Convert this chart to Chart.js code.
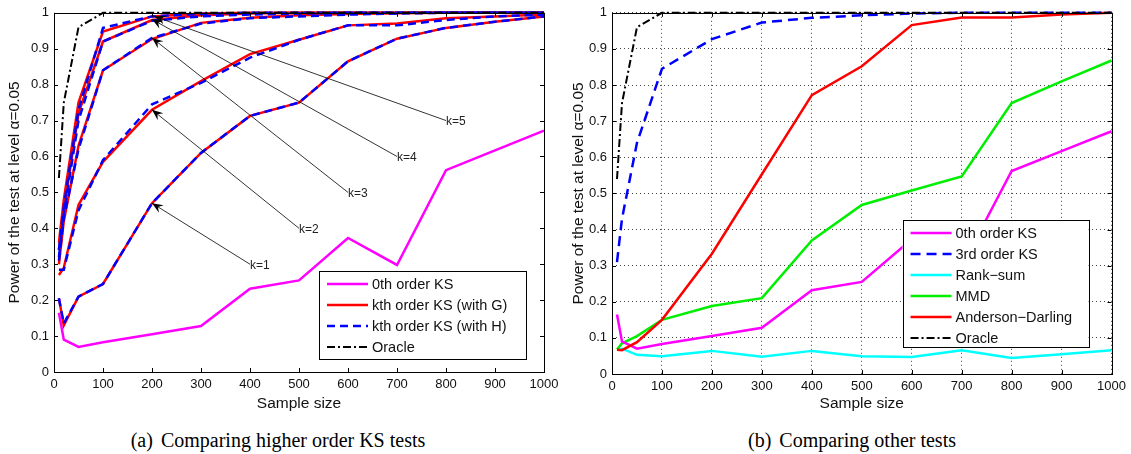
<!DOCTYPE html>
<html><head><meta charset="utf-8">
<script src="https://cdn.jsdelivr.net/npm/chart.js@4.4.0/dist/chart.umd.min.js"></script>
<style>
html,body{margin:0;padding:0;background:#fff;width:1131px;height:454px;overflow:hidden;}
#wa{position:absolute;left:0;top:0;width:565px;height:415px;}
#wb{position:absolute;left:565px;top:0;width:566px;height:415px;}
.cap{position:absolute;top:429px;font-family:'Liberation Serif','Times New Roman',serif;font-size:20px;line-height:23px;color:#000;white-space:nowrap;transform:translateX(-50%);}
</style></head><body>
<div id="wa"><canvas id="ca"></canvas></div>
<div id="wb"><canvas id="cb"></canvas></div>
<div class="cap" style="left:278px">(a)<span style="margin-left:8px">Comparing higher order KS tests</span></div>
<div class="cap" style="left:852px">(b)<span style="margin-left:8px">Comparing other tests</span></div>
<script>
// ---------- data ----------
const sampleSizes = [10, 20, 50, 100, 200, 300, 400, 500, 600, 700, 800, 900, 1000];
const xTicks = [0, 100, 200, 300, 400, 500, 600, 700, 800, 900, 1000];
const yTicks = [0, 0.1, 0.2, 0.3, 0.4, 0.5, 0.6, 0.7, 0.8, 0.9, 1];

const ks0th = [0.165, 0.09, 0.07, 0.083, 0.105, 0.128, 0.232, 0.255, 0.373, 0.298, 0.562, 0.617, 0.672];
// kth order KS with G, k = 1..5
const ksG1 = [0.205, 0.13, 0.21, 0.245, 0.47, 0.61, 0.713, 0.75, 0.865, 0.928, 0.958, 0.975, 0.99];
const ksG2 = [0.27, 0.29, 0.465, 0.585, 0.73, 0.81, 0.885, 0.925, 0.965, 0.97, 0.985, 0.99, 0.995];
const ksG3 = [0.3, 0.42, 0.63, 0.84, 0.927, 0.972, 0.986, 0.993, 0.997, 0.999, 1, 1, 1];
const ksG4 = [0.34, 0.45, 0.72, 0.92, 0.98, 0.993, 0.998, 1, 1, 1, 1, 1, 1];
const ksG5 = [0.36, 0.48, 0.75, 0.948, 0.99, 0.998, 1, 1, 1, 1, 1, 1, 1];
// kth order KS with H, k = 1..5
const ksH1 = [0.205, 0.135, 0.21, 0.245, 0.47, 0.61, 0.713, 0.75, 0.865, 0.928, 0.958, 0.975, 0.99];
const ksH2 = [0.285, 0.285, 0.45, 0.59, 0.745, 0.805, 0.875, 0.925, 0.965, 0.965, 0.98, 0.99, 0.995];
const ksH3 = [0.31, 0.43, 0.62, 0.84, 0.93, 0.97, 0.985, 0.99, 0.995, 0.998, 1, 1, 1];
const ksH4 = [0.32, 0.44, 0.7, 0.92, 0.978, 0.99, 0.995, 0.998, 1, 1, 1, 1, 1];
const ksH5 = [0.34, 0.46, 0.73, 0.958, 0.99, 0.997, 1, 1, 1, 1, 1, 1, 1];
const oracle = [0.54, 0.75, 0.96, 1, 1, 1, 1, 1, 1, 1, 1, 1, 1];

const ks3rd = [0.31, 0.43, 0.64, 0.845, 0.927, 0.973, 0.986, 0.993, 0.998, 1, 1, 1, 1];
const rankSum = [0.068, 0.07, 0.053, 0.049, 0.064, 0.048, 0.064, 0.049, 0.047, 0.066, 0.044, 0.055, 0.066];
const mmd = [0.068, 0.085, 0.105, 0.15, 0.188, 0.21, 0.37, 0.468, 0.508, 0.547, 0.75, 0.81, 0.868];
const andersonDarling = [0.067, 0.066, 0.088, 0.15, 0.333, 0.553, 0.772, 0.852, 0.966, 0.987, 0.987, 0.995, 1.0];

const arrowLabels = ['k=1', 'k=2', 'k=3', 'k=4', 'k=5'];
const arrowFromX = [400, 500, 600, 700, 800];
const arrowFromY = [0.3, 0.4, 0.5, 0.6, 0.7];
const arrowToX = [200, 200, 200, 200, 205];
const arrowToY = [0.47, 0.73, 0.93, 0.982, 0.99];

const legendLabelsA = ['0th order KS', 'kth order KS (with G)', 'kth order KS (with H)', 'Oracle'];
const legendLabelsB = ['0th order KS', '3rd order KS', 'Rank\u2212sum', 'MMD', 'Anderson\u2212Darling', 'Oracle'];

// ---------- styles ----------
const SANS = "'Liberation Sans', Arial, Helvetica, sans-serif";
const sMag = {borderColor: '#ff00ff', borderWidth: 2.5, borderDash: []};
const sRed = {borderColor: '#ff0000', borderWidth: 2.5, borderDash: []};
const sBlue = {borderColor: '#0000ff', borderWidth: 2.5, borderDash: [8, 5]};
const sBlue2 = {borderColor: '#0000ff', borderWidth: 2.5, borderDash: [10, 6]};
const sOra = {borderColor: '#000000', borderWidth: 2, borderDash: [8, 3, 2, 3]};
const sCyan = {borderColor: '#00ffff', borderWidth: 2.5, borderDash: []};
const sGreen = {borderColor: '#00ee00', borderWidth: 2.5, borderDash: []};

function ds(label, data, sty, order) {
  return Object.assign({label, data: data.map((v, i) => ({x: sampleSizes[i], y: v})),
    pointRadius: 0, tension: 0, fill: false, clip: 6, order: order || 0,
    borderCapStyle: 'butt', borderJoinStyle: 'miter'}, sty);
}

function drawArrow(ctx, x0, y0, x1, y1) {
  ctx.beginPath(); ctx.moveTo(x0, y0); ctx.lineTo(x1, y1); ctx.stroke();
  const ang = Math.atan2(y1 - y0, x1 - x0);
  const L = 11, W = 4.5, N = 7;
  const c = Math.cos(ang), s = Math.sin(ang);
  const pt = (a, b) => [x1 - a * c - b * (-s), y1 - a * s - b * c];
  const p1 = pt(L, W), p2 = pt(N, 0), p3 = pt(L, -W);
  ctx.beginPath(); ctx.moveTo(x1, y1); ctx.lineTo(p1[0], p1[1]); ctx.lineTo(p2[0], p2[1]);
  ctx.lineTo(p3[0], p3[1]); ctx.closePath(); ctx.fill();
}

function decor(legend) {
  return {
    id: 'decor',
    afterDraw(chart) {
      const ctx = chart.ctx, a = chart.chartArea, xs = chart.scales.x, ys = chart.scales.y;
      ctx.save();
      ctx.setLineDash([]);
      ctx.strokeStyle = '#000'; ctx.lineWidth = 1;
      ctx.beginPath();
      xs.ticks.forEach(t => {
        const p = Math.round(xs.getPixelForValue(t.value)) + 0.5;
        ctx.moveTo(p, a.bottom); ctx.lineTo(p, a.bottom - 4);
        ctx.moveTo(p, a.top); ctx.lineTo(p, a.top + 4);
      });
      ys.ticks.forEach(t => {
        const p = Math.round(ys.getPixelForValue(t.value)) + 0.5;
        ctx.moveTo(a.left, p); ctx.lineTo(a.left + 4, p);
        ctx.moveTo(a.right, p); ctx.lineTo(a.right - 4, p);
      });
      ctx.stroke();
      ctx.strokeRect(Math.round(a.left) + 0.5, Math.round(a.top) + 0.5, Math.round(a.right - a.left), Math.round(a.bottom - a.top));

      if (legend.arrows) {
        ctx.fillStyle = '#000'; ctx.strokeStyle = '#000'; ctx.lineWidth = 0.8;
        ctx.font = '12px ' + SANS; ctx.textAlign = 'left'; ctx.textBaseline = 'middle';
        arrowLabels.forEach((lab, i) => {
          const x0 = xs.getPixelForValue(arrowFromX[i]), y0 = ys.getPixelForValue(arrowFromY[i]);
          const x1 = xs.getPixelForValue(arrowToX[i]), y1 = ys.getPixelForValue(arrowToY[i]);
          drawArrow(ctx, x0, y0, x1, y1);
          ctx.fillStyle = '#222';
          ctx.fillText(lab, x0, y0 + 1);
          ctx.fillStyle = '#000';
        });
      }

      // legend box
      const bx = a.right - legend.right - legend.w, by = a.bottom - legend.bottom - legend.h;
      ctx.fillStyle = '#fff';
      ctx.fillRect(bx, by, legend.w, legend.h);
      ctx.lineWidth = 1; ctx.strokeStyle = '#000';
      ctx.strokeRect(Math.round(bx) + 0.5, Math.round(by) + 0.5, legend.w, legend.h);
      ctx.font = '14.5px ' + SANS; ctx.textAlign = 'left'; ctx.textBaseline = 'middle';
      legend.labels.forEach((lab, i) => {
        const d = chart.data.datasets[legend.idx[i]];
        const y = by + 13 + i * legend.step;
        ctx.beginPath();
        ctx.strokeStyle = d.borderColor; ctx.lineWidth = d.borderWidth;
        ctx.setLineDash(d.borderDash || []);
        ctx.moveTo(bx + 8, y); ctx.lineTo(bx + 49, y); ctx.stroke();
        ctx.setLineDash([]);
        ctx.fillStyle = '#111';
        ctx.fillText(lab, bx + 53, y + 1);
      });
      ctx.restore();
    }
  };
}

function scales(yWidth, yTitlePad, xHeight, withGrid) {
  const tickFont = {family: SANS, size: 13};
  const titleFont = {family: SANS, size: 15.5};
  const grid = withGrid
    ? {display: true, drawOnChartArea: true, drawTicks: false, color: '#444', lineWidth: 1}
    : {display: false, drawTicks: false};
  const border = withGrid ? {display: false, dash: [1, 3]} : {display: false};
  return {
    x: {
      type: 'linear', min: 0, max: 1000,
      afterBuildTicks: s => { s.ticks = xTicks.map(v => ({value: v})); },
      afterFit: s => { s.height = xHeight; },
      ticks: {color: '#111', font: tickFont, padding: 5, autoSkip: false, maxRotation: 0, callback: v => String(v)},
      grid: Object.assign({}, grid), border: Object.assign({}, border),
      title: {display: true, text: 'Sample size', color: '#111', font: titleFont, padding: {top: 0, bottom: 2}}
    },
    y: {
      type: 'linear', min: 0, max: 1,
      afterBuildTicks: s => { s.ticks = yTicks.map(v => ({value: v})); },
      afterFit: s => { s.width = yWidth; },
      ticks: {color: '#111', font: tickFont, padding: 5, callback: v => String(Math.round(v * 10) / 10)},
      grid: Object.assign({}, grid), border: Object.assign({}, border),
      title: {display: true, text: 'Power of the test at level \u03b1=0.05', color: '#111', font: titleFont, padding: {top: yTitlePad, bottom: 0}}
    }
  };
}

const baseOpts = {
  responsive: true, maintainAspectRatio: false, animation: false,
  plugins: {legend: {display: false}, tooltip: {enabled: false}}
};

new Chart(document.getElementById('ca'), {
  type: 'line',
  data: {datasets: [
    ds('0th order KS', ks0th, sMag, 3),
    ds('kth order KS (with G) k=1', ksG1, sRed, 2),
    ds('kth order KS (with H) k=1', ksH1, sBlue, 1),
    ds('Oracle', oracle, sOra, 0),
    ds('kth order KS (with G) k=2', ksG2, sRed, 2),
    ds('kth order KS (with G) k=3', ksG3, sRed, 2),
    ds('kth order KS (with G) k=4', ksG4, sRed, 2),
    ds('kth order KS (with G) k=5', ksG5, sRed, 2),
    ds('kth order KS (with H) k=2', ksH2, sBlue, 1),
    ds('kth order KS (with H) k=3', ksH3, sBlue, 1),
    ds('kth order KS (with H) k=4', ksH4, sBlue, 1),
    ds('kth order KS (with H) k=5', ksH5, sBlue, 1)
  ]},
  options: Object.assign({}, baseOpts, {
    layout: {padding: {top: 10, right: 21, left: 0, bottom: 0}},
    scales: scales(54, 5, 43, false)
  }),
  plugins: [decor({labels: legendLabelsA, idx: [0, 1, 2, 3], w: 207, h: 88, step: 21, right: 18, bottom: 13, arrows: true})]
});

new Chart(document.getElementById('cb'), {
  type: 'line',
  data: {datasets: [
    ds('0th order KS', ks0th, sMag, 2),
    ds('3rd order KS', ks3rd, sBlue2, 1),
    ds('Rank\u2212sum', rankSum, sCyan, 3),
    ds('MMD', mmd, sGreen, 2),
    ds('Anderson\u2212Darling', andersonDarling, sRed, 1),
    ds('Oracle', oracle, sOra, 0)
  ]},
  options: Object.assign({}, baseOpts, {
    layout: {padding: {top: 10, right: 19, left: 0, bottom: 0}},
    scales: scales(47, 4, 41, true)
  }),
  plugins: [decor({labels: legendLabelsB, idx: [0, 1, 2, 3, 4, 5], w: 186, h: 127, step: 21, right: 23, bottom: 27, arrows: false})]
});
</script>
</body></html>
